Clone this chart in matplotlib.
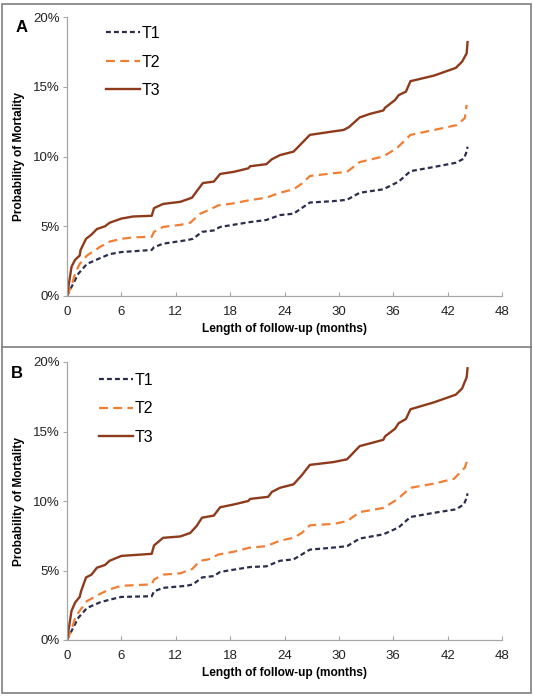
import matplotlib
matplotlib.use("Agg")
import matplotlib.pyplot as plt
from matplotlib.patches import Rectangle
from matplotlib.lines import Line2D
from matplotlib.ticker import FuncFormatter

plt.rcParams['font.family'] = ['Liberation Sans', 'DejaVu Sans']

# ---- panel A (months, % mortality) ----
a_t1_x = [0, 0.5, 1.25, 2.2, 3.6, 4.7, 6.0, 9.35, 9.6, 10.6, 13.2, 13.9, 14.9, 16.2, 16.9, 20.2,
          22.0, 23.5, 25.0, 25.9, 26.8, 29.4, 30.9, 32.3, 34.9, 36.6, 37.9, 40.5, 42.9, 43.8, 44.1, 44.2]
a_t1_y = [0, 0.65, 1.6, 2.3, 2.7, 3.0, 3.15, 3.3, 3.5, 3.75, 4.0, 4.1, 4.6, 4.7, 4.95, 5.3,
          5.45, 5.8, 5.9, 6.3, 6.7, 6.8, 6.9, 7.4, 7.65, 8.2, 8.95, 9.25, 9.55, 9.85, 10.35, 10.7]

a_t2_x = [0, 0.5, 0.9, 1.4, 2.2, 3.6, 4.7, 6.0, 7.3, 9.35, 9.6, 10.6, 12.5, 13.6, 14.7, 15.6, 16.7,
          18.0, 20.0, 22.0, 23.5, 25.0, 25.9, 26.8, 29.4, 30.9, 32.3, 34.9, 36.4, 37.9, 40.5, 43.0,
          43.9, 44.1]
a_t2_y = [0, 0.75, 1.6, 2.3, 2.9, 3.5, 3.9, 4.1, 4.2, 4.25, 4.6, 4.95, 5.1, 5.25, 5.9, 6.15, 6.5,
          6.6, 6.85, 7.05, 7.4, 7.65, 8.05, 8.6, 8.8, 8.9, 9.6, 10.0, 10.6, 11.55, 11.9, 12.25,
          12.75, 13.7]

a_t3_x = [0, 0.5, 0.9, 1.4, 1.5, 2.1, 2.7, 3.3, 4.2, 4.7, 6.0, 7.3, 9.35, 9.6, 10.6, 12.5, 13.8,
          14.3, 15.0, 16.2, 16.9, 18.4, 20.0, 20.2, 22.0, 22.6, 23.5, 25.0, 25.9, 26.8, 29.4, 30.5,
          31.1, 32.3, 33.4, 34.9, 35.1, 36.2, 36.6, 37.4, 37.9, 40.5, 42.9, 43.6, 44.1, 44.2]
a_t3_y = [0, 2.1, 2.6, 2.9, 3.3, 4.1, 4.4, 4.8, 5.0, 5.25, 5.55, 5.7, 5.75, 6.3, 6.6, 6.75, 7.05,
          7.5, 8.1, 8.2, 8.75, 8.9, 9.15, 9.3, 9.45, 9.8, 10.1, 10.35, 10.95, 11.55, 11.8, 11.9,
          12.1, 12.8, 13.05, 13.3, 13.5, 14.05, 14.4, 14.65, 15.4, 15.8, 16.35, 16.8, 17.4, 18.2]

# ---- panel B ----
b_t1_x = a_t1_x
b_t1_y = [0, 0.65, 1.6, 2.3, 2.7, 2.9, 3.1, 3.15, 3.5, 3.75, 3.9, 4.0, 4.5, 4.6, 4.9, 5.25,
          5.3, 5.7, 5.8, 6.15, 6.5, 6.65, 6.75, 7.3, 7.6, 8.1, 8.85, 9.15, 9.4, 9.75, 10.25, 10.55]

b_t2_x = [0, 0.5, 0.9, 1.4, 2.2, 3.6, 4.7, 6.0, 9.35, 9.6, 10.6, 12.5, 13.8, 14.7, 15.6, 16.7,
          18.4, 20.2, 22.0, 23.5, 25.0, 25.9, 26.8, 29.4, 30.9, 32.3, 34.9, 36.4, 37.9, 40.5, 42.7,
          43.9, 44.2]
b_t2_y = [0, 0.75, 1.6, 2.1, 2.8, 3.3, 3.65, 3.9, 4.0, 4.35, 4.7, 4.8, 5.1, 5.7, 5.8, 6.15,
          6.35, 6.65, 6.75, 7.15, 7.35, 7.7, 8.25, 8.35, 8.55, 9.2, 9.5, 10.1, 10.95, 11.25, 11.6,
          12.4, 13.0]

b_t3_x = [0, 0.5, 0.9, 1.4, 1.55, 2.1, 2.7, 3.3, 4.2, 4.7, 6.0, 9.35, 9.6, 10.6, 12.5, 13.6,
          14.3, 14.9, 16.2, 16.9, 18.4, 20.0, 20.2, 22.2, 22.6, 23.5, 25.0, 25.9, 26.8, 29.4, 30.9,
          32.3, 34.9, 35.1, 36.2, 36.6, 37.4, 37.9, 40.5, 42.9, 43.6, 44.1, 44.2]
b_t3_y = [0, 2.1, 2.7, 3.1, 3.5, 4.5, 4.7, 5.2, 5.4, 5.7, 6.05, 6.2, 6.8, 7.35, 7.45, 7.7,
          8.2, 8.8, 8.95, 9.55, 9.75, 10.0, 10.15, 10.3, 10.65, 10.95, 11.2, 11.85, 12.6, 12.8, 13.0,
          13.95, 14.4, 14.65, 15.2, 15.6, 15.9, 16.6, 17.1, 17.65, 18.1, 18.9, 19.55]

series_names = ['T1', 'T2', 'T3']
x_ticks = [0, 6, 12, 18, 24, 30, 36, 42, 48]
y_ticks = [0, 5, 10, 15, 20]

colors = ['#2a2d4e', '#f07f35', '#8e3b1c']
styles = [dict(ls=(0, (2.2, 1.4)), lw=1.6), dict(ls=(0, (4.0, 2.4)), lw=1.6), dict(ls='-', lw=1.7)]
axis_gray = '#a6a6a6'

fig = plt.figure(figsize=(5.33, 6.96), dpi=100)
W, H = 533, 696


def px_axes(left, top, right, bottom):
    return fig.add_axes([left / W, 1 - bottom / H, (right - left) / W, (bottom - top) / H])


def style_panel(ax, series, legend_anchor):
    for (xs, ys), name, c, st in zip(series, series_names, colors, styles):
        ax.plot(xs, ys, color=c, label=name, solid_joinstyle='round', **st)
    ax.set_xlim(0, 48)
    ax.set_ylim(0, 20)
    ax.set_xticks(x_ticks)
    ax.set_yticks(y_ticks)
    ax.yaxis.set_major_formatter(FuncFormatter(lambda v, p: f'{int(v)}%'))
    for s in ['top', 'right']:
        ax.spines[s].set_visible(False)
    for s in ['left', 'bottom']:
        ax.spines[s].set_color(axis_gray)
        ax.spines[s].set_linewidth(0.9)
    ax.tick_params(axis='x', direction='in', length=3, color=axis_gray, labelsize=9.5, pad=7,
                   labelcolor='#222222')
    ax.tick_params(axis='y', direction='out', length=3, color=axis_gray, labelsize=9.5, pad=2,
                   labelcolor='#222222')
    ax.set_xlabel('Length of follow-up (months)', fontsize=8.6, fontweight='bold', labelpad=4)
    ax.set_ylabel('Probability of Mortality', fontsize=8.6, fontweight='bold', labelpad=6)
    ax.legend(loc='upper left', bbox_to_anchor=legend_anchor, frameon=False, fontsize=11.5,
              handlelength=2.1, handletextpad=0.1, labelspacing=0.85, borderpad=0,
              borderaxespad=0)


ax_a = px_axes(67, 17, 502, 296)
style_panel(ax_a, [(a_t1_x, a_t1_y), (a_t2_x, a_t2_y), (a_t3_x, a_t3_y)], (0.09, 0.968))

ax_b = px_axes(67, 362, 502, 640)
style_panel(ax_b, [(b_t1_x, b_t1_y), (b_t2_x, b_t2_y), (b_t3_x, b_t3_y)], (0.074, 0.962))

# panel frames
fig.patches.append(Rectangle((2 / W, 1 - 693 / H), 529 / W, 689 / H, transform=fig.transFigure,
                             fill=False, edgecolor='#7f7f7f', lw=1.2))
fig.lines.append(Line2D([2 / W, 531 / W], [1 - 347 / H, 1 - 347 / H], transform=fig.transFigure,
                        color='#7f7f7f', lw=1.2))

fig.text(16 / W, 1 - 28 / H, 'A', fontsize=12, fontweight='bold', va='center', ha='left')
fig.text(11 / W, 1 - 374 / H, 'B', fontsize=12, fontweight='bold', va='center', ha='left')

fig.savefig('out.png', dpi=100)
